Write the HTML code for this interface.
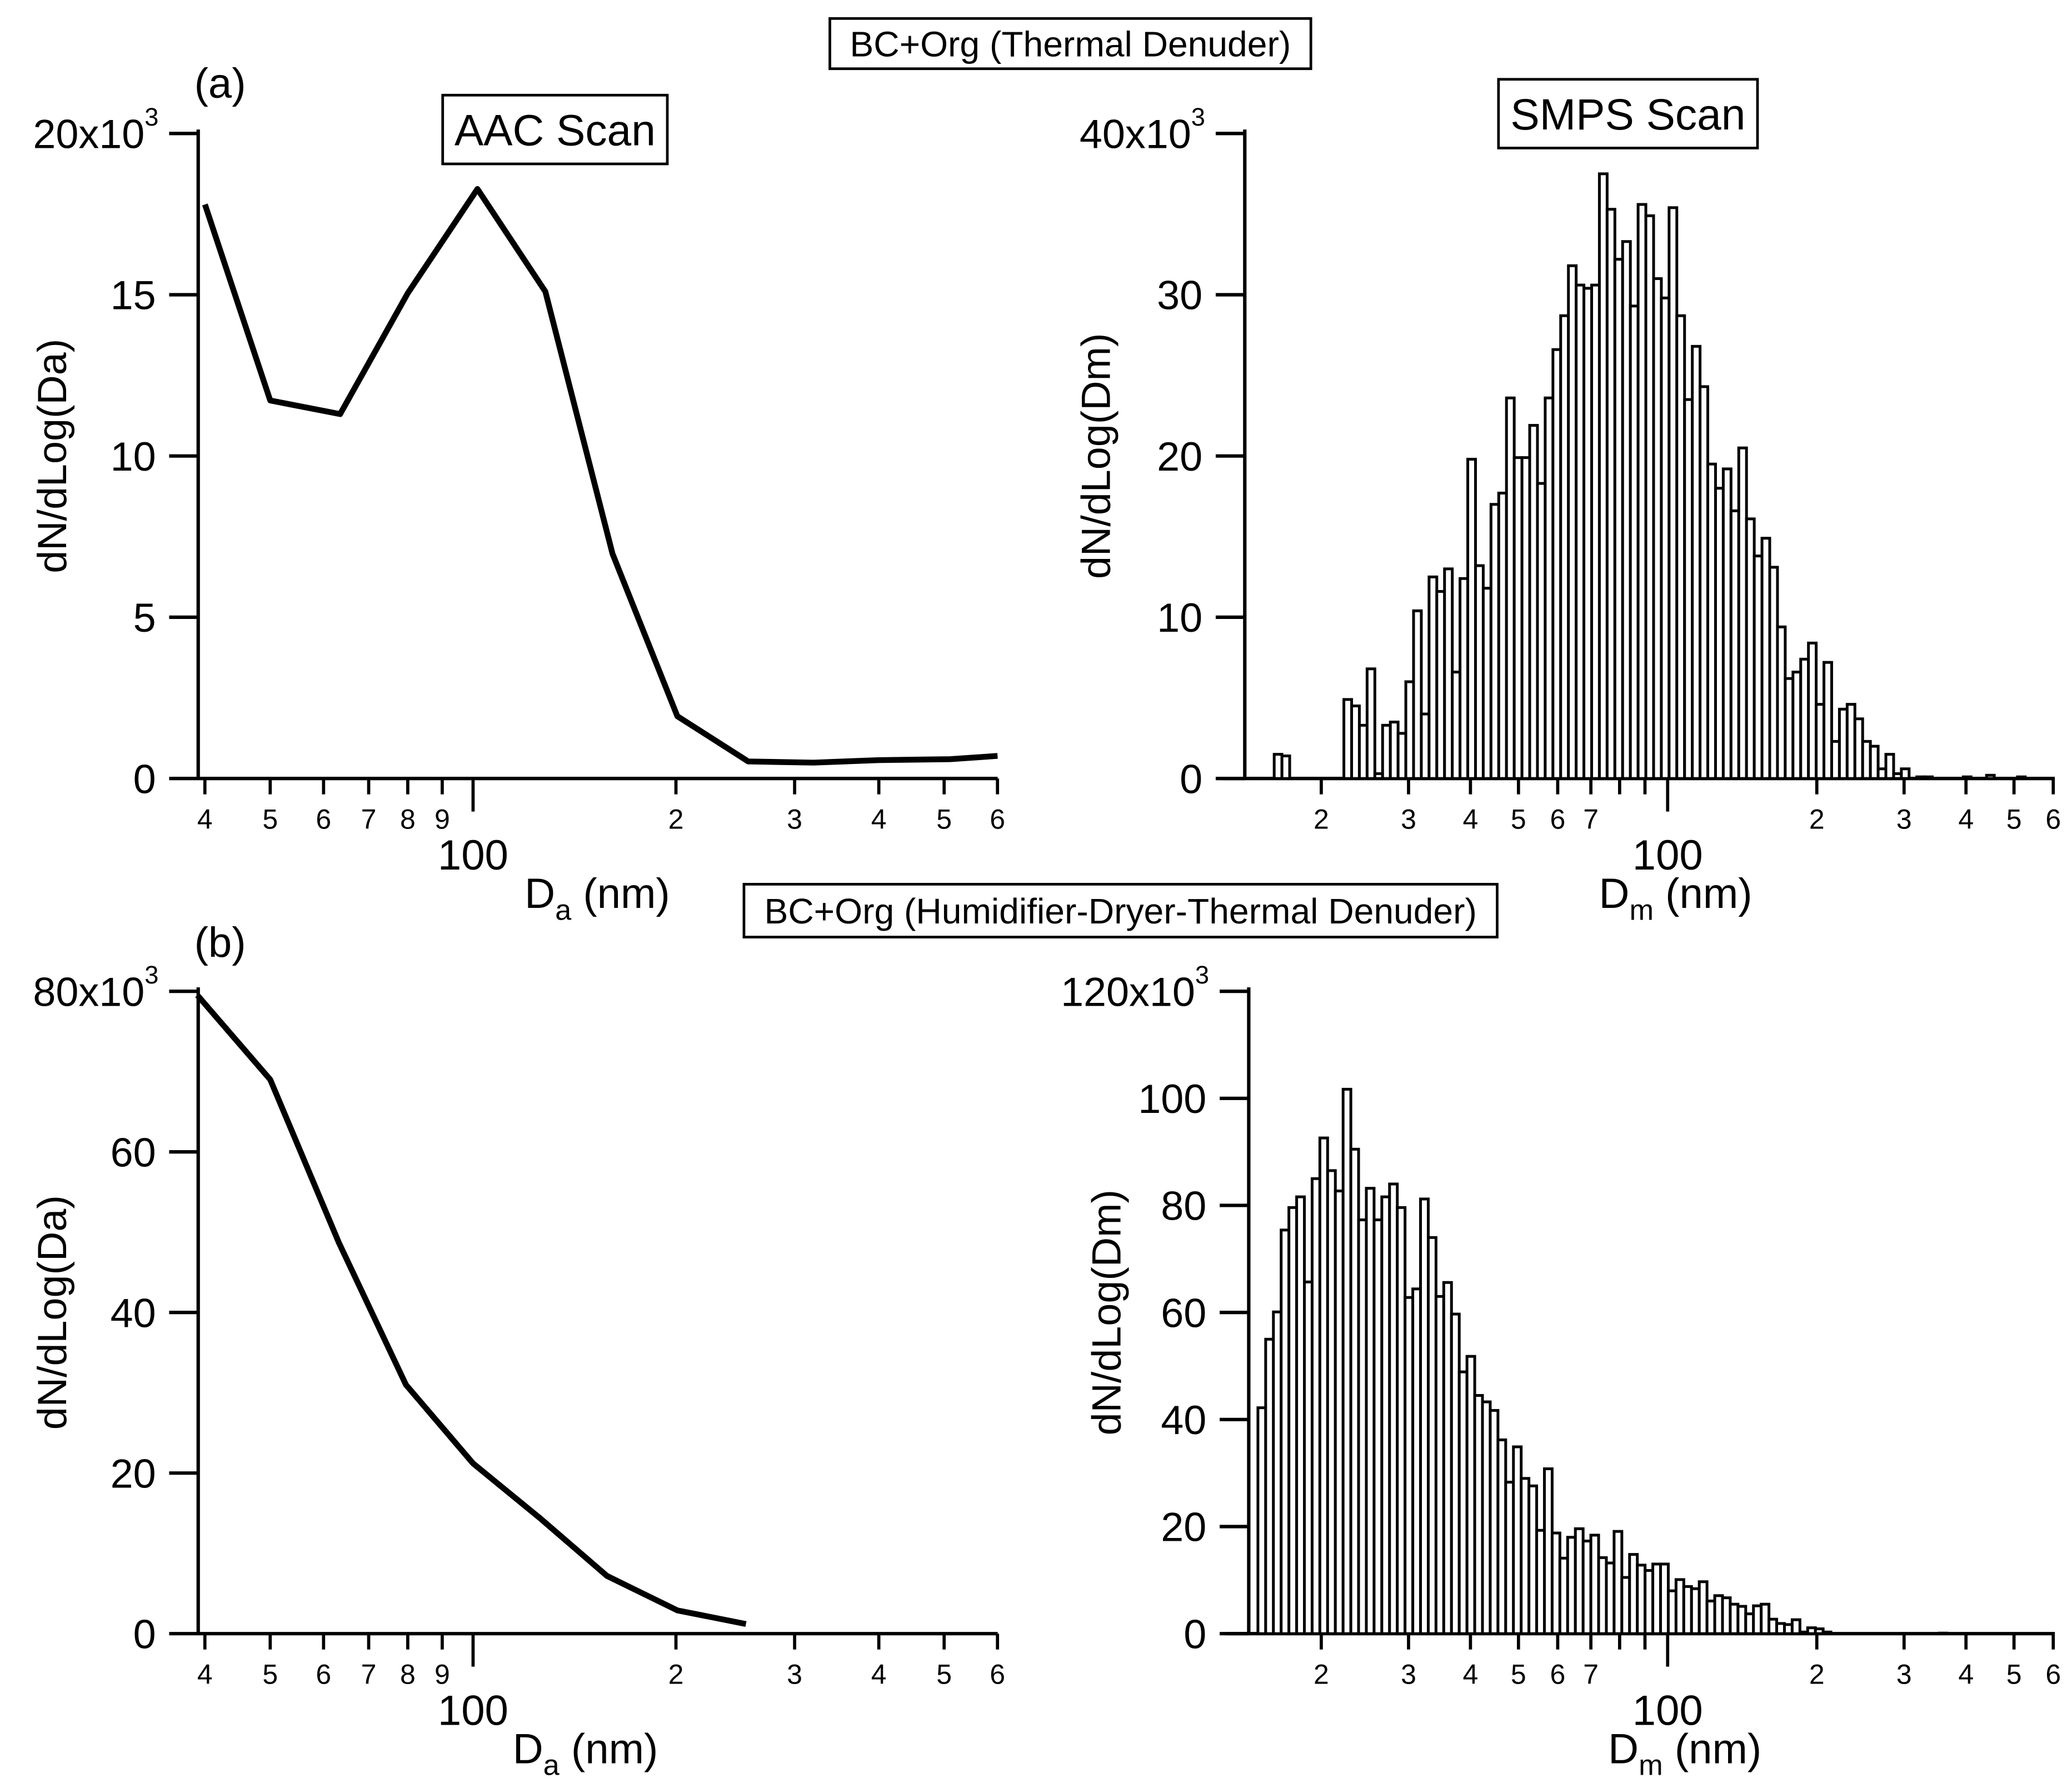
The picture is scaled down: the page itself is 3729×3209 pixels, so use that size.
<!DOCTYPE html>
<html><head><meta charset="utf-8"><style>
html,body{margin:0;padding:0;background:#fff}
svg{display:block}
text{font-family:"Liberation Sans Narrow","Liberation Sans",Arial,sans-serif;fill:#000}
</style></head><body>
<svg id="fig" xmlns="http://www.w3.org/2000/svg" width="3729" height="3209" viewBox="0 0 1568 1349" preserveAspectRatio="none">
<rect width="1568" height="1349" fill="#fff"/>
<g id="g"></g>
</svg>
<script>
// ---- data ----
const aacTopD = [40,50,63.5,80,101.5,128,161,201,256,320,400,510,600];
const aacTopN = [17.8,11.72,11.3,15.05,18.28,15.1,6.97,1.93,0.53,0.49,0.57,0.6,0.7];
const aacBotD = [39,50,63.2,79.5,100,126,158,201,254];
const aacBotN = [79.5,69,48.7,31,21.2,14.3,7.2,2.9,1.2];
const smpsTopStart = 16.07;
const smpsTopN = [1.5,1.4,0,0,0,0,0,0,0,
 4.9,4.5,3.3,6.8,0.3,3.3,3.5,2.8,6.0,10.4,4.0,12.5,11.6,13.0,6.6,12.4,19.8,13.2,11.8,17.0,17.7,23.6,19.9,19.9,21.9,18.3,23.6,26.6,28.7,31.8,30.6,30.4,30.6,37.5,35.3,32.2,33.3,29.3,35.6,34.9,31.0,29.8,35.4,
 28.7,23.5,26.8,24.3,19.5,18.0,19.2,16.6,20.5,16.1,13.8,14.9,13.1,9.4,6.2,6.6,7.4,8.4,4.6,7.2,2.3,4.3,4.6,3.7,2.3,2.0,0.6,1.5,0.3,0.6,
 0,0.1,0.1,0,0,0,0,0.1,0,0,0.2,0,0,0,0.1,0,0,0];
const smpsBotStart = 14.9;
const smpsBotN = [42.2,55.0,60.1,75.4,79.6,81.6,65.7,85.0,92.6,86.5,82.7,101.7,90.5,77.3,83.2,77.3,81.6,84.0,79.6,62.8,64.4,81.2,74.0,63.0,65.6,59.7,48.9,51.8,44.5,43.3,41.7,36.2,28.3,34.9,29.0,27.6,19.3,30.8,18.8,14.1,18.0,19.6,17.3,18.4,14.2,13.2,19.1,
 10.5,14.8,12.8,11.8,13.0,13.0,8.0,10.1,8.8,8.4,9.7,6.1,7.1,6.7,5.5,5.1,3.7,5.2,5.5,2.7,1.9,1.7,2.6,0.3,1.1,0.9,0.3,
 0,0,0,0,0,0,0,0,0,0,0,0,0,0,0.1,0,0,0,0,0,0,0,0,0,0,0,0];
const binsPerDecade = 64;
const leftMinor = [40,50,60,70,80,90];
const leftMinorLbl = ["4","5","6","7","8","9"];
const rightMinorLo = [20,30,40,50,60,70,80,90];
const rightMinorLoLbl = ["2","3","4","5","6","7","",""];
const hiMinor = [200,300,400,500,600];
const hiMinorLbl = ["2","3","4","5","6"];
const yTopL = [0,5,10,15,20], yTopR=[0,10,20,30,40], yBotL=[0,20,40,60,80], yBotR=[0,20,40,60,80,100,120];

const NS="http://www.w3.org/2000/svg";
const G=document.getElementById('g');
function mk(tag,attrs,parent){const e=document.createElementNS(NS,tag);for(const k in attrs)e.setAttribute(k,attrs[k]);(parent||G).appendChild(e);return e;}
function txt(s,x,y,size,anchor,parent){const t=mk('text',{x:x,y:y,'font-size':size,'text-anchor':anchor||'middle'},parent);t.textContent=s;return t;}

function panel(cfg){
  const grp=mk('g',{});
  
  
  const X=d=>cfg.x100+Math.log10(d/100)*cfg.dec;
  const Y=v=>cfg.y0-(v/cfg.ymax)*(cfg.y0-cfg.ytop);
  const ya=mk('line',{x1:cfg.ax,y1:cfg.ytop-3,x2:cfg.ax,y2:cfg.y0+1,stroke:'#000','stroke-width':2.6},grp);
  
  
  cfg.yt.forEach(v=>{
    mk('line',{x1:cfg.ax-22,y1:Y(v),x2:cfg.ax,y2:Y(v),stroke:'#000','stroke-width':2.6},grp);
    let t;
    if(v===cfg.ymax){
      t=txt('',cfg.ax-30,Y(v)+11,31,'end',grp);
      t.textContent=v+'x10';
      const s=mk('tspan',{dy:-17,'font-size':19},t); s.textContent='3';
    } else {
      t=txt(String(v),cfg.ax-32,Y(v)+11,31,'end',grp);
    }
    
    
  });
  const xa=mk('line',{x1:cfg.xl,y1:cfg.y0,x2:cfg.xr,y2:cfg.y0,stroke:'#000','stroke-width':2.6},grp);
  
  
  const ticks=[];
  cfg.minor.forEach((d,i)=>ticks.push([d,cfg.minorLbl[i]]));
  hiMinor.forEach((d,i)=>ticks.push([d,hiMinorLbl[i]]));
  ticks.forEach(([d,l])=>{
    const x=X(d);
    mk('line',{x1:x,y1:cfg.y0,x2:x,y2:cfg.y0+12,stroke:'#000','stroke-width':2.4},grp);
    if(l){const t=txt(l,x,cfg.y0+38,21,'middle',grp);
      
      }
  });
  const x1=X(100);
  mk('line',{x1:x1,y1:cfg.y0,x2:x1,y2:cfg.y0+25,stroke:'#000','stroke-width':2.4},grp);
  const t100=txt('100',x1,cfg.y0+69,32,'middle',grp);
  
  
  const xt=txt('',cfg.xtx,cfg.y0+98,32,'middle',grp);
  xt.textContent=cfg.xsym;
  const sb=mk('tspan',{dy:9,'font-size':22},xt); sb.textContent=cfg.xsub;
  const rest=mk('tspan',{dy:-9},xt); rest.textContent=' (nm)';
  
  
  const yc=(cfg.y0+cfg.ytop)/2;
  const yt=txt(cfg.ytitle,0,0,31,'middle',grp);
  yt.setAttribute('transform','translate('+cfg.ytx+','+yc+') rotate(-90)');
  
  
  return {grp,X,Y};
}

function linePlot(p,D,N,name){
  const pts=D.map((d,i)=>p.X(d).toFixed(1)+','+p.Y(N[i]).toFixed(1)).join(' ');
  const pl=mk('polyline',{points:pts,fill:'none',stroke:'#000','stroke-width':4.4,'stroke-linejoin':'round'},p.grp);
  
  
}
function histPlot(p,start,N,name){
  const g=mk('g',{},p.grp);
  
  
  N.forEach((v,i)=>{
    const d0=start*Math.pow(10,i/binsPerDecade), d1=start*Math.pow(10,(i+1)/binsPerDecade);
    const x0=p.X(d0), x1=p.X(d1), y=p.Y(v);
    const r=mk('rect',{x:x0,y:y,width:x1-x0,height:Math.max(0,p.y0c-y),fill:'#fff',stroke:'#000','stroke-width':2.1},g);
    
    
  });
}

const pTL=panel({name:'aac-scan-thermal',x100:358,dec:510,ax:150,xl:150,xr:755,y0:589,ytop:101,ymax:20,yt:yTopL,minor:leftMinor,minorLbl:leftMinorLbl,xsym:'D',xsub:'a',xtx:452,ytitle:'dN/dLog(Da)',ytx:50});
linePlot(pTL,aacTopD,aacTopN,'aac-line-a');
const pTR=panel({name:'smps-scan-thermal',x100:1262,dec:375,ax:942,xl:925,xr:1555,y0:589,ytop:101,ymax:40,yt:yTopR,minor:rightMinorLo,minorLbl:rightMinorLoLbl,xsym:'D',xsub:'m',xtx:1268,ytitle:'dN/dLog(Dm)',ytx:840});
histPlot(Object.assign(pTR,{y0c:589}),smpsTopStart,smpsTopN,'smps-histogram-a');
const pBL=panel({name:'aac-scan-humidified',x100:358,dec:510,ax:150,xl:150,xr:755,y0:1236,ytop:750,ymax:80,yt:yBotL,minor:leftMinor,minorLbl:leftMinorLbl,xsym:'D',xsub:'a',xtx:443,ytitle:'dN/dLog(Da)',ytx:50});
linePlot(pBL,aacBotD,aacBotN,'aac-line-b');
const pBR=panel({name:'smps-scan-humidified',x100:1262,dec:375,ax:945,xl:928,xr:1555,y0:1236,ytop:750,ymax:120,yt:yBotR,minor:rightMinorLo,minorLbl:rightMinorLoLbl,xsym:'D',xsub:'m',xtx:1275,ytitle:'dN/dLog(Dm)',ytx:848});
histPlot(Object.assign(pBR,{y0c:1236}),smpsBotStart,smpsBotN,'smps-histogram-b');

function box(label,x,y,w,h,size,name){
  const g=mk('g',{});
  
  
  mk('rect',{x:x,y:y,width:w,height:h,fill:'#fff',stroke:'#000','stroke-width':2},g);
  txt(label,x+w/2,y+h/2+size*0.36,size,'middle',g);
}
box('BC+Org (Thermal Denuder)',628,14,364,38,27,'title-box-a');
box('AAC Scan',335,72,170,52,33,'aac-scan-label');
box('SMPS Scan',1134,60,196,52,33,'smps-scan-label');
box('BC+Org (Humidifier-Dryer-Thermal Denuder)',563,669,570,40,27,'title-box-b');
const la=txt('(a)',147,74,32,'start');  
const lb=txt('(b)',147,724,32,'start');  
</script>
</body></html>
